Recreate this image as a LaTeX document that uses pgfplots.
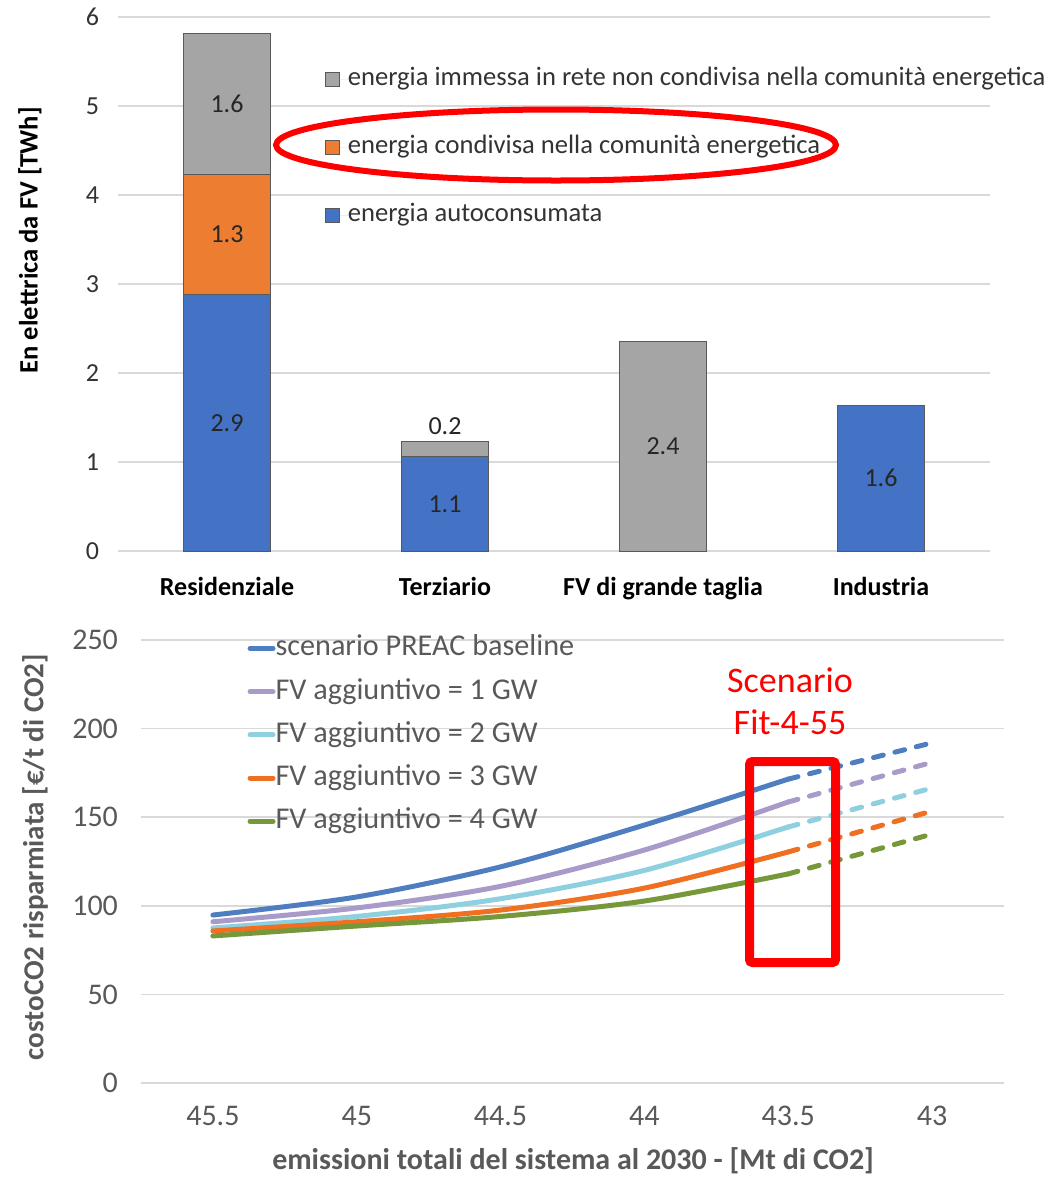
\documentclass[border=0pt]{standalone}
\usepackage{fontspec}
\setmainfont{Carlito}
\usepackage{pgfplots}
\pgfplotsset{compat=1.18}

\definecolor{xlblue}{HTML}{4472C4}
\definecolor{xlorange}{HTML}{ED7D31}
\definecolor{xlgray}{HTML}{A5A5A5}
\definecolor{txtgray}{HTML}{595959}
\definecolor{gridgray}{HTML}{D9D9D9}
\definecolor{lnblue}{HTML}{4F7EC0}
\definecolor{lnpurple}{HTML}{A99BC9}
\definecolor{lncyan}{HTML}{8ECFE0}
\definecolor{lnorange}{HTML}{EE7020}
\definecolor{lngreen}{HTML}{76973A}

\begin{document}
\begin{tikzpicture}
\useasboundingbox (0,0) rectangle (528pt,-589.5pt);

% sopra: energia elettrica da FV per settore
\begin{axis}[
  at={(59pt,-275.5pt)}, anchor=south west,
  scale only axis, width=436pt, height=267pt,
  ybar stacked, bar width=43.5pt,
  xmin=-0.5, xmax=3.5, ymin=0, ymax=6,
  xtick={0,1,2,3},
  xticklabels={Residenziale,Terziario,FV di grande taglia,Industria},
  ytick={0,1,...,6},
  axis line style={draw=none}, major tick length=0pt,
  ymajorgrids, grid style={gridgray, line width=0.8pt},
  xticklabel style={font=\bfseries\fontsize{13}{15}\selectfont, text=black, yshift=-9.5pt},
  yticklabel style={font=\fontsize{13}{15}\selectfont, text=black!80, xshift=-6pt},
  /pgf/number format/assume math mode=true,
  ylabel={En elettrica da FV [TWh]},
  ylabel style={font=\bfseries\fontsize{13.3}{15}\selectfont, at={(axis description cs:-0.101,0.582)}, anchor=center},
  point meta=explicit symbolic,
  nodes near coords,
  every node near coord/.append style={font=\fontsize{13}{15}\selectfont, text=black!85, anchor=center},
  reverse legend,
  legend style={at={(axis description cs:0.2374,0.906)}, anchor=north west, draw=none, fill=none,
    inner sep=0pt, font=\fontsize{13.3}{15}\selectfont, text=black!80, row sep=22pt,
    nodes={inner sep=0pt, text height=9pt, text depth=3pt}},
  legend cell align=left,
  legend image code/.code={\draw[#1, draw=txtgray, line width=0.4pt] (0pt,-3.5pt) rectangle (7pt,3.5pt);
    \path[draw=none] (0pt,0pt) -- (11pt,0pt);},
]
\addplot[fill=xlblue, draw=txtgray, line width=0.4pt] coordinates {(0,2.88) [2.9] (1,1.06) [1.1] (2,0) [] (3,1.64) [1.6]};
\addplot[fill=xlorange, draw=txtgray, line width=0.4pt] coordinates {(0,1.35) [1.3] (1,0) [] (2,0) [] (3,0) []};
\addplot[fill=xlgray, draw=txtgray, line width=0.4pt] coordinates {(0,1.59) [1.6] (1,0.17) [] (2,2.35) [2.4] (3,0) []};
\legend{energia autoconsumata, energia condivisa nella comunità energetica, energia immessa in rete non condivisa nella comunità energetica}
\node[anchor=south, font=\fontsize{13}{15}\selectfont, text=black!85] at (axis cs:1,1.23) {0.2};
\end{axis}

\draw[red, line width=3pt] (278pt,-72.5pt) ellipse [x radius=140pt, y radius=17.75pt];

% sotto: costo della CO2 risparmiata
\begin{axis}[
  at={(70.5pt,-541.5pt)}, anchor=south west,
  scale only axis, width=431.5pt, height=221.5pt,
  xmin=-0.5, xmax=5.5, ymin=0, ymax=250,
  xtick={0,...,5}, xticklabels={45.5,45,44.5,44,43.5,43},
  ytick={0,50,...,250},
  axis line style={draw=none}, major tick length=0pt,
  ymajorgrids, grid style={gridgray, line width=0.8pt},
  tick label style={font=\fontsize{15}{18}\selectfont, text=txtgray},
  xticklabel style={yshift=-8pt},
  yticklabel style={xshift=-8pt},
  /pgf/number format/assume math mode=true,
  xlabel={emissioni totali del sistema al 2030 - [Mt di CO2]},
  ylabel={costoCO2 risparmiata [€/t di CO2]},
  xlabel style={font=\bfseries\fontsize{15}{17}\selectfont, text=txtgray, at={(axis description cs:0.5006,-0.176)}, anchor=center},
  ylabel style={font=\bfseries\fontsize{14.5}{17}\selectfont, text=txtgray, at={(axis description cs:-0.1228,0.51)}, anchor=center},
  legend style={at={(axis description cs:0.123,1.0146)}, anchor=north west, draw=none, fill=none,
    inner sep=0pt, font=\fontsize{15.1}{18}\selectfont, text=txtgray, row sep=7.1pt,
    nodes={inner sep=0pt, text height=11pt, text depth=3.5pt}},
  legend cell align=left,
  legend image code/.code={\draw[#1, line width=2.5pt, line cap=round] (1.25pt,0pt) -- (12.75pt,0pt);},
  every axis plot/.append style={line width=2.5pt, line cap=round},
]
\addplot[lnblue, smooth] coordinates {(0,94.8)(1,105)(2,122)(3,145.6)(4,171.5)};
\addplot[lnpurple, smooth] coordinates {(0,91)(1,98.8)(2,111)(3,131.5)(4,158.6)};
\addplot[lncyan, smooth] coordinates {(0,87.5)(1,94)(2,104)(3,120)(4,144.5)};
\addplot[lnorange, smooth] coordinates {(0,85.8)(1,91)(2,97.6)(3,110)(4,130.4)};
\addplot[lngreen, smooth] coordinates {(0,83)(1,88.6)(2,94)(3,102.7)(4,118)};
\addplot[lnblue, dash pattern=on 5pt off 6pt, forget plot] coordinates {(4,171.5)(5,192)};
\addplot[lnpurple, dash pattern=on 5pt off 6pt, forget plot] coordinates {(4,158.6)(5,181)};
\addplot[lncyan, dash pattern=on 5pt off 6pt, forget plot] coordinates {(4,144.5)(5,166.5)};
\addplot[lnorange, dash pattern=on 5pt off 6pt, forget plot] coordinates {(4,130.4)(5,153.5)};
\addplot[lngreen, dash pattern=on 5pt off 6pt, forget plot] coordinates {(4,118)(5,140.5)};
\legend{scenario PREAC baseline, FV aggiuntivo = 1 GW, FV aggiuntivo = 2 GW, FV aggiuntivo = 3 GW, FV aggiuntivo = 4 GW}
\end{axis}

\node[align=center, text=red, font=\fontsize{18}{21}\selectfont] at (395pt,-350.5pt) {Scenario\\Fit-4-55};
\draw[red, line width=4.5pt, rounded corners=1.5pt] (374.75pt,-380.75pt) rectangle (417.75pt,-481.25pt);

\end{tikzpicture}
\end{document}
